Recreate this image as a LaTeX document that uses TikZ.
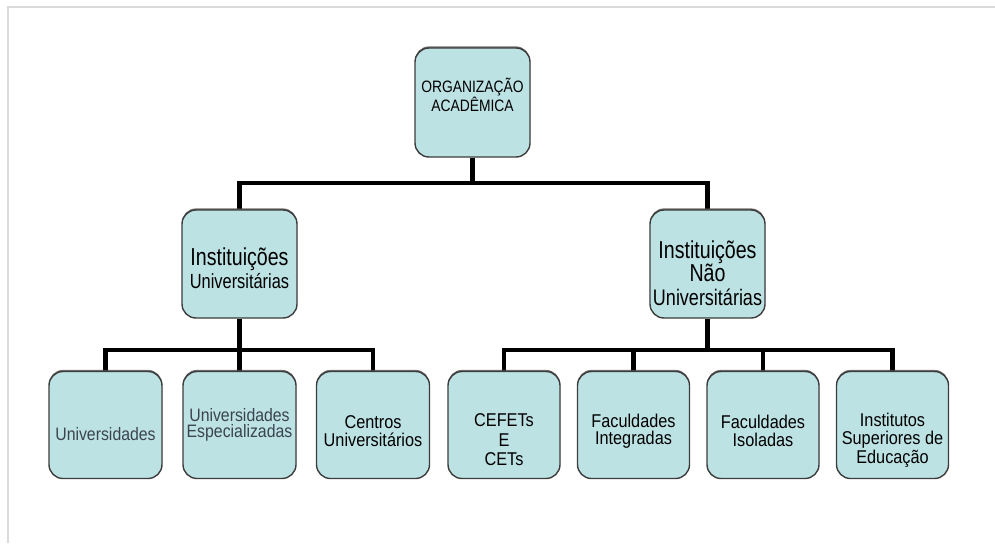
\documentclass[tikz,border=0pt]{standalone}
\usepackage{fontspec}
\setmainfont{Liberation Sans}
\newfontfamily\cndA[FakeStretch=0.80]{Liberation Sans}
\newfontfamily\cndB[FakeStretch=0.88]{Liberation Sans}
\newfontfamily\cndC[FakeStretch=0.84]{Liberation Sans}
\usetikzlibrary{shadows}
\pgfdeclarelayer{bg}
\pgfsetlayers{bg,main}
\definecolor{boxfill}{HTML}{BDE2E4}
\definecolor{boxline}{HTML}{3C3C3C}
\definecolor{frameline}{HTML}{DADADA}
\definecolor{softtext}{HTML}{3A4450}
\tikzset{
  orgbox/.style={draw=boxline, line width=1.4pt, fill=boxfill, rounded corners=14pt,
    minimum width=#1, minimum height=107pt, inner sep=0pt,
    drop shadow={shadow xshift=0pt, shadow yshift=1.6pt, fill=black!70, opacity=0.8}},
  orgbox/.default=113pt,
  conn/.style={line width=4.6pt, black, line cap=butt, line join=miter},
  lbl/.style={align=center, inner sep=0pt, text=black},
}
\begin{document}
\begin{tikzpicture}[x=1pt, y=-1pt]
\useasboundingbox (0,0) rectangle (995,543);
% frame
\draw[frameline, line width=1.8pt] (8,543) -- (8,7) -- (995,7);
% boxes
\node[orgbox=115pt, minimum height=109pt] (top) at (472.5,102.5) {};
\node[orgbox=115pt, minimum height=108pt] (iu) at (239.5,264) {};
\node[orgbox=115pt, minimum height=108pt] (inu) at (707.5,264) {};
\node[orgbox] (u1) at (105.5,425) {};
\node[orgbox] (u2) at (239.5,425) {};
\node[orgbox] (u3) at (373,425) {};
\node[orgbox=112pt] (n1) at (504,425) {};
\node[orgbox=112pt] (n2) at (633.5,425) {};
\node[orgbox=112pt] (n3) at (763,425) {};
\node[orgbox=112pt] (n4) at (892.5,425) {};
% bars
\coordinate (b1) at (472.5,183);
\coordinate (b2) at (239.5,350);
\coordinate (b3) at (707.5,350);
% connectors
\begin{pgfonlayer}{bg}
\draw[conn] (top.south) -- (b1);
\draw[conn] (b1) -| (iu.north);
\draw[conn] (b1) -| (inu.north);
\draw[conn] (iu.south) -- (b2);
\draw[conn] (b2) -| (u1.north);
\draw[conn] (b2) -- (u2.north);
\draw[conn] (b2) -| (u3.north);
\draw[conn] (inu.south) -- (b3);
\draw[conn] (b3) -| (n1.north);
\draw[conn] (b3) -| (n2.north);
\draw[conn] (b3) -| (n3.north);
\draw[conn] (b3) -| (n4.north);
\end{pgfonlayer}
% texts
\node[lbl, font=\cndC\fontsize{16.5}{15}\selectfont] (ttop) at (472.5,95) {ORGANIZAÇÃO\\ACADÊMICA};
\node[lbl, font=\cndA\fontsize{24.5}{23}\selectfont] (tiu) at (239.5,268) {Instituições\\{\fontsize{20.5}{20.5}\selectfont Universitárias}};
\node[lbl, font=\cndA\fontsize{24.5}{23.5}\selectfont] (tinu) at (707.5,273) {Instituições\\Não\\{\fontsize{22.5}{22.5}\selectfont Universitárias}};
\node[lbl, text=softtext, font=\cndB\fontsize{18}{18}\selectfont] (tu1) at (105.5,434) {Universidades};
\node[lbl, text=softtext, font=\cndB\fontsize{18}{16.5}\selectfont] (tu2) at (239.5,425) {Universidades\\Especializadas};
\node[lbl, font=\cndB\fontsize{18.5}{18}\selectfont] (tu3) at (373,431) {Centros\\Universitários};
\node[lbl, font=\cndB\fontsize{18.5}{19.5}\selectfont] (tn1) at (504,440) {CEFETs\\E\\CETs};
\node[lbl, font=\cndB\fontsize{18.5}{17.5}\selectfont] (tn2) at (633.5,431) {Faculdades\\Integradas};
\node[lbl, font=\cndB\fontsize{18.5}{17.5}\selectfont] (tn3) at (763,431) {Faculdades\\Isoladas};
\node[lbl, font=\cndB\fontsize{18.5}{18.5}\selectfont] (tn4) at (892.5,440) {Institutos\\Superiores de\\Educação};
\end{tikzpicture}
\end{document}
